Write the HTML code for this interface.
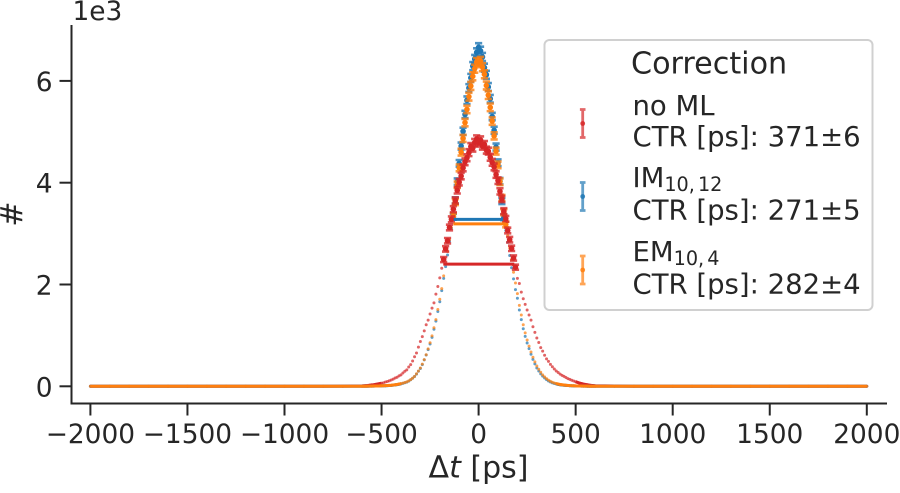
<!DOCTYPE html>
<html>
<head>
<meta charset="utf-8">
<style>
html,body{margin:0;padding:0;background:#fff;width:900px;height:493px;overflow:hidden}
svg{display:block}
text{font-family:"DejaVu Sans",sans-serif;fill:#262626}
</style>
</head>
<body>
<svg id="chart" xmlns="http://www.w3.org/2000/svg" width="900" height="493" viewBox="0 0 900 493"></svg>
<script>
const timeBins = [
-2000,-1900,-1800,-1700,-1600,-1500,-1400,-1300,-1200,-1100,-1000,-900,-800,-700,
-600,-590,-580,-570,-560,-550,-540,-530,-520,-510,
-500,-490,-480,-470,-460,-450,-440,-430,-420,-410,
-400,-390,-380,-370,-360,-350,-340,-330,-320,-310,
-300,-290,-280,-270,-260,-250,-240,-230,-220,-210,
-200,-190,-180,-170,-160,-150,-140,-130,-120,-110,
-100,-90,-80,-70,-60,-50,-40,-30,-20,-10,
0,10,20,30,40,50,60,70,80,90,
100,110,120,130,140,150,160,170,180,190,
200,210,220,230,240,250,260,270,280,290,
300,310,320,330,340,350,360,370,380,390,
400,410,420,430,440,450,460,470,480,490,
500,510,520,530,540,550,560,570,580,590,
600,
700,800,900,1000,1100,1200,1300,1400,1500,1600,1700,1800,1900,2000];
const noMlCounts = [
0,0,0,0,0,0,0,0,0,0,0,1,2,4,
8,11,14,17,22,27,31,38,45,52,
60,70,84,95,108,125,140,162,178,205,
225,262,295,322,380,425,498,580,655,770,
880,975,1090,1210,1300,1420,1535,1640,1810,1960,
2130,2320,2490,2700,2860,3120,3280,3480,3650,3850,
4010,4130,4290,4410,4490,4590,4710,4680,4790,4860,
4780,4840,4720,4750,4640,4620,4500,4400,4310,4160,
4040,3830,3680,3440,3290,3060,2880,2710,2520,2340,
2120,2020,1850,1720,1610,1500,1400,1300,1170,1060,
950,860,760,690,610,540,490,430,385,340,
300,272,240,215,195,172,150,135,118,105,
90,76,64,54,44,37,30,24,19,15,
12,
5,2,1,0,0,0,0,0,0,0,0,0,0,0];
const im1012Counts = [
0,0,0,0,0,0,0,0,0,0,0,0,0,0,
1,1,2,2,3,3,4,5,6,7,
8,10,11,13,16,19,23,28,33,40,
48,58,70,82,102,128,158,192,240,295,
350,425,520,615,720,830,960,1120,1280,1470,
1660,1880,2120,2350,2580,2850,3100,3330,3650,4020,
4380,4720,5010,5340,5620,5860,6060,6290,6430,6560,
6660,6590,6470,6260,6120,5880,5650,5300,5030,4700,
4390,4030,3640,3320,3060,2830,2570,2330,2110,1900,
1730,1500,1310,1130,980,850,740,630,530,440,
360,300,245,200,162,132,105,84,68,56,
46,38,31,26,21,18,15,12,10,9,
7,6,5,4,4,3,2,2,1,1,
1,
0,0,0,0,0,0,0,0,0,0,0,0,0,0];
const em104Counts = [
0,0,0,0,0,0,0,0,0,0,0,0,0,0,
1,2,2,3,3,4,5,6,7,8,
10,11,13,15,18,21,25,30,36,44,
52,62,74,88,106,132,160,196,246,300,
360,435,525,620,735,855,990,1150,1310,1510,
1710,1920,2170,2400,2650,2880,3120,3340,3620,3960,
4290,4600,4870,5180,5440,5690,5900,6090,6240,6370,
6350,6390,6270,6130,5910,5720,5480,5210,4920,4620,
4350,4020,3700,3420,3180,2960,2720,2490,2240,2030,
1820,1590,1400,1210,1050,910,790,675,570,480,
400,335,275,225,185,150,122,98,80,66,
54,44,36,30,25,20,17,14,12,10,
8,7,6,5,4,3,3,2,2,1,
1,
0,0,0,0,0,0,0,0,0,0,0,0,0,0];
const seriesNames = ["no-ml","im-10-12","em-10-4"];
const fwhmLevels = [2400,3280,3190];
const fwhmStarts = [-182,-128,-130];
const fwhmEnds = [184,126,140];
const xTicks = [-2000,-1500,-1000,-500,0,500,1000,1500,2000];
const yTicks = [0,2,4,6];

const seriesCounts = [noMlCounts, im1012Counts, em104Counts];
const seriesColors = ["#d62728","#1f77b4","#ff7f0e"];
const tailStarts = [500,400,400];
const svg = document.getElementById('chart');
const NS = 'http://www.w3.org/2000/svg';
function xScale(t){return 478.6 + t*0.1941;}
function yScale(v){return 386.3 - v*0.0509;}
function add(parent,tag,attrs,txt){
  const e = document.createElementNS(NS,tag);
  for(const k in attrs){e.setAttribute(k,attrs[k]);}
  if(txt!==undefined){e.textContent=txt;}
  parent.appendChild(e);
  return e;
}
function groupFor(name){
  const g = add(svg,'g',{});
  
  
  return g;
}
function drawDots(si){
  const g = groupFor('series-dots-'+seriesNames[si]);
  timeBins.forEach(function(t,i){
    const c = add(g,'circle',{cx:xScale(t),cy:yScale(seriesCounts[si][i]),r:1.5,fill:seriesColors[si],'fill-opacity':0.72});
    
    
  });
  [-1,1].forEach(function(side){
    const pts = [];
    timeBins.forEach(function(t,i){
      if(t*side>=tailStarts[si]){pts.push(xScale(t)+','+yScale(seriesCounts[si][i]));}
    });
    const l = add(g,'polyline',{points:pts.join(' '),fill:'none',stroke:seriesColors[si],'stroke-width':3});
    
    
  });
}
function drawThick(si){
  const g = groupFor('series-errorbars-'+seriesNames[si]);
  timeBins.forEach(function(t,i){
    if(t<fwhmStarts[si]-6||t>fwhmEnds[si]+6){return;}
    const v = seriesCounts[si][i];
    const e = Math.sqrt(v);
    const x = xScale(t), y0 = yScale(v-e), y1 = yScale(v+e);
    const d = 'M'+x+' '+y0+'V'+y1+'M'+(x-3.6)+' '+y0+'H'+(x+3.6)+'M'+(x-3.6)+' '+y1+'H'+(x+3.6);
    const p = add(g,'path',{d:d,fill:'none',stroke:seriesColors[si],'stroke-width':2.6,'stroke-opacity':0.8});
    
    
    const c = add(g,'circle',{cx:x,cy:yScale(v),r:2.8,fill:seriesColors[si]});
    
    
  });
}
[0,1,2].forEach(drawDots);
[1,2,0].forEach(drawThick);
const fwhmGroup = groupFor('fwhm-lines');
[1,2,0].forEach(function(si){
  const l = add(fwhmGroup,'line',{x1:xScale(fwhmStarts[si]),x2:xScale(fwhmEnds[si]),y1:yScale(fwhmLevels[si]),y2:yScale(fwhmLevels[si]),stroke:seriesColors[si],'stroke-width':3});
  
  
});

const axes = groupFor('axes');
const ySpine = add(axes,'line',{x1:71.5,x2:71.5,y1:25,y2:404.5,stroke:'#262626','stroke-width':2});


const xSpine = add(axes,'line',{x1:70.5,x2:887,y1:403.5,y2:403.5,stroke:'#262626','stroke-width':2});


xTicks.forEach(function(t){
  const x = xScale(t);
  const m = add(axes,'line',{x1:x,x2:x,y1:404,y2:415.5,stroke:'#262626','stroke-width':2});
  
  
  const lab = add(axes,'text',{x:x,y:443,'text-anchor':'middle','font-size':26.4},String(t).replace('-','\u2212'));
  
  
});
yTicks.forEach(function(v){
  const y = yScale(v*1000);
  const m = add(axes,'line',{x1:59.5,x2:71,y1:y,y2:y,stroke:'#262626','stroke-width':2});
  
  
  const lab = add(axes,'text',{x:52.5,y:y+10,'text-anchor':'end','font-size':26.4},String(v));
  
  
});

const labels = groupFor('labels-and-legend');
labels.innerHTML =
  '<text x="72.5" y="20" font-size="26.4">1e3</text>'+
  '<text transform="translate(22,214) rotate(-90)" text-anchor="middle" font-size="30">#</text>'+
  '<text x="478.5" y="477.5" text-anchor="middle" font-size="30">\u0394<tspan font-style="italic">t</tspan> [ps]</text>'+
  '<rect x="544.5" y="40" width="328" height="270" rx="5" fill="#fff" fill-opacity="0.8" stroke="#d0d0d0" stroke-width="2"/>'+
  '<g id="legend-handles"></g>'+
  '<text x="631" y="73.5" font-size="30.2">Correction</text>'+
  '<text x="632.5" y="115" font-size="27.5">no ML</text>'+
  '<text x="632.5" y="146" font-size="27.5">CTR [ps]: 371\u00b16</text>'+
  '<text x="632.5" y="187" font-size="27.5">IM<tspan font-size="19.2" dy="4" word-spacing="-3">10, 12</tspan></text>'+
  '<text x="632.5" y="219.5" font-size="27.5">CTR [ps]: 271\u00b15</text>'+
  '<text x="632.5" y="261" font-size="27.5">EM<tspan font-size="19.2" dy="4" word-spacing="-3">10, 4</tspan></text>'+
  '<text x="632.5" y="293.5" font-size="27.5">CTR [ps]: 282\u00b14</text>';

const legendY = [123.5,196.5,270];
const legendOrder = [0,1,2];
const legendGroup = document.getElementById('legend-handles');
legendOrder.forEach(function(si,k){
  const y = legendY[k], x = 582.7;
  const p = add(legendGroup,'path',{d:'M'+x+' '+(y-14)+'V'+(y+14)+'M'+(x-2.8)+' '+(y-14)+'H'+(x+2.8)+'M'+(x-2.8)+' '+(y+14)+'H'+(x+2.8),fill:'none',stroke:seriesColors[si],'stroke-width':2.8,'stroke-opacity':0.7});
  
  
  const c = add(legendGroup,'circle',{cx:x,cy:y,r:2.4,fill:seriesColors[si],'fill-opacity':0.85});
  
  
});
</script>
</body>
</html>
